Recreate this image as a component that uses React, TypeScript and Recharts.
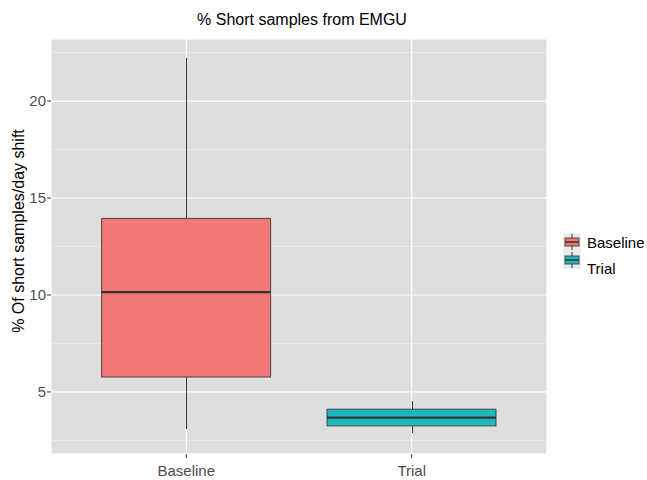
import React from 'react';
import { ComposedChart, Bar, XAxis, YAxis, CartesianGrid, Legend } from 'recharts';

document.body.style.margin = '0';

const groups = ['Baseline', 'Trial'];
const mins = [3.1, 2.87];
const lowerQuartiles = [5.77, 3.25];
const medians = [10.15, 3.68];
const upperQuartiles = [13.95, 4.11];
const maxes = [22.2, 4.54];
const fills = ['#F37774', '#1FB9BB'];
const yTicks = [5, 10, 15, 20];
const minorTicks = [2.5, 7.5, 12.5, 17.5, 22.5];
const yDomain = [1.8, 23.2];

const data = groups.map((name, i) => ({
    name,
    min: mins[i],
    q1: lowerQuartiles[i],
    median: medians[i],
    q3: upperQuartiles[i],
    max: maxes[i],
    box: [lowerQuartiles[i], upperQuartiles[i]],
    fill: fills[i],
}));

const FONT = '"Liberation Sans", Arial, sans-serif';
const EDGE = '#333333';

const BoxShape = (props: any) => {
    const { x, y, width, height, payload } = props;
    const top = Math.min(y, y + height);
    const h = Math.abs(height);
    const ppu = h / (payload.q3 - payload.q1);
    const yOf = (v: number) => top + (payload.q3 - v) * ppu;
    const cx = Math.round(x + width / 2) + 0.5;
    return (
        <g>
            <line x1={cx} x2={cx} y1={yOf(payload.max)} y2={top} stroke={EDGE} strokeWidth={1} shapeRendering="crispEdges" />
            <line x1={cx} x2={cx} y1={top + h} y2={yOf(payload.min)} stroke={EDGE} strokeWidth={1} shapeRendering="crispEdges" />
            <rect x={x} y={top} width={width} height={h} fill={payload.fill} stroke={EDGE} strokeOpacity={0.85} strokeWidth={1} />
            <line x1={x} x2={x + width} y1={yOf(payload.median)} y2={yOf(payload.median)} stroke={EDGE} strokeWidth={2.2} />
        </g>
    );
};

const LegendContent = () => (
    <svg width={85} height={50} style={{ fontFamily: FONT }}>
        {groups.map((g, i) => {
            const ky = i * 18;
            return (
                <g key={g}>
                    <rect x={0} y={ky} width={18} height={18} fill="#ebebeb" />
                    <line x1={9} x2={9} y1={ky + 1} y2={ky + 17} stroke={EDGE} />
                    <rect x={2} y={ky + 5} width={14} height={8} fill={fills[i]} stroke={EDGE} strokeOpacity={0.85} />
                    <line x1={2} x2={16} y1={ky + 9} y2={ky + 9} stroke={EDGE} strokeWidth={1.5} />
                    <text x={24} y={i === 0 ? 15 : 41} fontSize={15} fill="#000">{g}</text>
                </g>
            );
        })}
    </svg>
);

export default function App() {
    return (
        <div style={{ position: 'relative', width: 647, height: 480, background: '#fff' }}>
            <svg width={647} height={40} style={{ position: 'absolute', left: 0, top: 0 }}>
                <text x={302} y={25} textAnchor="middle" fontSize={16} fontFamily={FONT} fill="#000">
                    % Short samples from EMGU
                </text>
            </svg>
            <ComposedChart
                width={647}
                height={480}
                data={data}
                margin={{ top: 39, right: 100, bottom: 0, left: 0 }}
                barCategoryGap={0}
                style={{ fontFamily: FONT }}
            >
                <CartesianGrid
                    yAxisId="minor"
                    fill="#dedede"
                    vertical={false}
                    stroke="#ececec"
                    strokeWidth={0.8}
                />
                <CartesianGrid stroke="#ffffff" strokeWidth={1.2} />
                <XAxis
                    dataKey="name"
                    padding={{ left: 22.6, right: 22.6 }}
                    axisLine={false}
                    tickLine={{ stroke: EDGE }}
                    tickSize={4}
                    tickMargin={7}
                    height={26}
                    tick={{ fill: '#4d4d4d', fontSize: 15 }}
                />
                <YAxis yAxisId="minor" hide type="number" domain={yDomain} ticks={minorTicks} allowDataOverflow />
                <YAxis
                    type="number"
                    domain={yDomain}
                    ticks={yTicks}
                    allowDataOverflow
                    axisLine={false}
                    tickLine={{ stroke: EDGE }}
                    tickSize={4}
                    tickMargin={1}
                    width={51}
                    tick={{ fill: '#4d4d4d', fontSize: 15 }}
                    label={{
                        content: () => (
                            <text
                                transform="translate(24, 231) rotate(-90)"
                                textAnchor="middle"
                                fontSize={16}
                                fontFamily={FONT}
                                fill="#000"
                            >
                                % Of short samples/day shift
                            </text>
                        ),
                    }}
                />
                <Bar dataKey="box" barSize={169} shape={BoxShape} isAnimationActive={false} />
                <Legend
                    layout="vertical"
                    align="center"
                    verticalAlign="middle"
                    content={LegendContent}
                    wrapperStyle={{ left: 563, top: 233, width: 85, height: 50 }}
                />
            </ComposedChart>
        </div>
    );
}
